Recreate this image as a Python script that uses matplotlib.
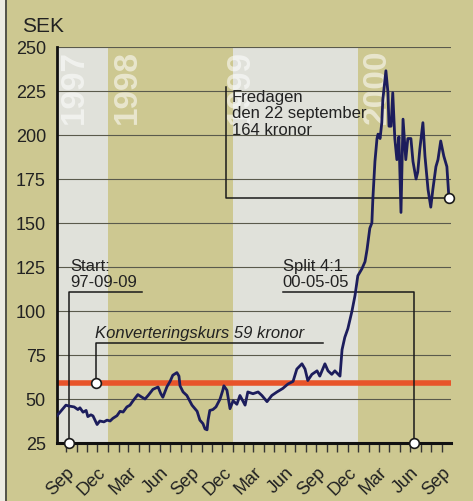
import matplotlib
matplotlib.use('Agg')
import matplotlib.pyplot as plt
from matplotlib.patches import Rectangle
from matplotlib.transforms import Bbox, TransformedBbox
import pandas as pd

plt.rcParams['font.family'] = ['Liberation Sans', 'DejaVu Sans']

# Kurs i SEK (dagar räknat från startdagen 97-09-09)
start = pd.Timestamp('1997-09-09')
days = [-35, -20, -9, 0, 15, 26, 32, 41, 50, 55, 64, 70, 82, 90, 102, 111, 120, 128,
        140, 149, 158, 169, 178, 187, 193, 201, 213, 222, 231, 245, 260, 268, 274,
        286, 295, 303, 315, 321, 324, 333, 344, 359, 374, 382, 391, 397, 403, 406,
        411, 420, 429, 441, 449, 452, 461, 470, 479, 490, 499, 514, 522, 537, 552,
        563, 578, 592, 607, 624, 639, 654, 665, 680, 689, 697, 709, 724, 732, 747,
        756, 767, 776, 791, 797, 805, 814, 826, 835, 843, 855, 864, 870, 878, 884,
        887, 893, 899, 902, 908, 913, 916, 925, 931, 934, 940, 945, 951, 957, 963,
        969, 975, 983, 989, 998, 1004, 1013, 1018, 1024, 1033, 1039, 1048, 1056,
        1062, 1071, 1077, 1085, 1094, 1103, 1109]
price = [40.5, 44, 46.5, 46, 45.5, 44, 45, 42.5, 43.5, 40, 41, 40.4, 35.5, 37.5, 37,
         38, 37.5, 39, 40.5, 43, 42.6, 45.5, 46.5, 49, 50.5, 52.5, 51, 50, 52, 55.5,
         56.8, 53, 51, 57, 60, 63.5, 65, 63, 57.5, 54, 52, 46.5, 43, 38, 36, 33, 32.5,
         38, 43.5, 44, 45.5, 50, 55, 57.5, 55, 44.5, 49, 47, 52, 46.5, 54, 53, 54, 52,
         48.5, 52, 54, 56, 58.5, 60, 67, 70, 67, 60.5, 64, 66, 63, 70, 66, 64, 66, 63,
         78, 85, 90, 100, 109, 120, 124, 128, 135, 147, 150, 164, 185, 198, 200.5, 198,
         207, 220, 236.5, 224, 205, 205, 224, 198, 186, 199, 156, 209, 186, 198, 198,
         185, 175, 179, 192, 207, 188, 169, 159, 169, 182, 186, 196.6, 188, 182, 164]

konv_kurs = 59
yticks = [25, 50, 75, 100, 125, 150, 175, 200, 225, 250]
quarter_names = {3: 'Mar', 6: 'Jun', 9: 'Sep', 12: 'Dec'}

bg = '#cdc891'
light = '#e0e1da'
ink = '#222222'

fig = plt.figure(figsize=(4.73, 5.02), dpi=100, facecolor=bg)
fig.patches.append(Rectangle((0, 0), 5 / 473, 1, transform=fig.transFigure,
                             facecolor='#ecebe2', edgecolor='none'))
fig.patches.append(Rectangle((5 / 473, 0), 1.5 / 473, 1, transform=fig.transFigure,
                             facecolor='#55554a', edgecolor='none'))

ax = fig.add_axes([57 / 473, 1 - 444 / 502, (451 - 57) / 473, (444 - 48) / 502])
ax.set_facecolor(bg)
ax.set_xlim(-35, 1115)
ax.set_ylim(25, 250)

# årsband
def d(s):
    return (pd.Timestamp(s) - start).days

ax.axvspan(-35, d('1998-01-01'), color=light, zorder=0, lw=0)
ax.axvspan(d('1999-01-01'), d('2000-01-01'), color=light, zorder=0, lw=0)
year_pos = [(-35 + 52, '1997'), (d('1998-01-01') + 55, '1998'),
            (d('1999-01-01') + 22, '1999'), (d('2000-01-01') + 55, '2000')]
for x, yr in year_pos:
    t = ax.text(x, 249, yr, rotation=90, ha='center', va='top', fontsize=24,
                fontweight='bold', color='white', alpha=0.55, zorder=1)
    if yr == '1999':
        # texten "Fredagen ..." täcker nederdelen av årtalet
        t.set_clip_box(TransformedBbox(Bbox([[x - 60, 228], [x + 60, 250]]), ax.transData))

for v in yticks[1:]:
    ax.axhline(v, color='#5a5a4c', lw=0.8, zorder=1)

# konverteringskurs
ax.axhline(konv_kurs, color='#e8542a', lw=4, zorder=2)

ax.plot(days, price, color='#1c1d5c', lw=2, zorder=4)

# annoteringar
line_kw = dict(color='#1a1a1a', lw=1.1, zorder=3)
ax.plot([0, 0, 213], [25, 110.8, 110.8], **line_kw)
ax.text(3, 112.5, 'Start:\n97-09-09', fontsize=12, color=ink, va='bottom', ha='left',
        linespacing=1.1)

ax.plot([79, 79, 741], [konv_kurs, 81.8, 81.8], **line_kw)
ax.text(76, 83.5, 'Konverteringskurs 59 kronor', fontsize=12, style='italic',
        color=ink, va='bottom', ha='left')

ax.plot([624, 1007, 1007], [110.8, 110.8, 25], **line_kw)
ax.text(624, 112.5, 'Split 4:1\n00-05-05', fontsize=12, color=ink, va='bottom',
        ha='left', linespacing=1.1)

ax.plot([458, 458, 1109], [227.3, price[-1], price[-1]], **line_kw)
ax.text(476, 226, 'Fredagen\nden 22 september\n164 kronor', fontsize=12, color=ink,
        va='top', ha='left', linespacing=1.1, zorder=3)

circ = [(0, 25), (79, konv_kurs), (1007, 25), (days[-1], price[-1])]
ax.plot([c[0] for c in circ], [c[1] for c in circ], 'o', ms=7, mfc='white',
        mec='#1a1a1a', mew=1.2, zorder=6, clip_on=False)

# axlar
for s in ['top', 'right']:
    ax.spines[s].set_visible(False)
ax.spines['left'].set_linewidth(2)
ax.spines['bottom'].set_linewidth(2.2)
ax.spines['left'].set_color('#111111')
ax.spines['bottom'].set_color('#111111')

ax.set_yticks(yticks)
ax.set_yticklabels([str(v) for v in yticks], fontsize=13, color=ink)
ax.tick_params(axis='y', length=0, pad=8)

months = pd.date_range('1997-09-01', '2000-09-01', freq='MS')
ax.set_xticks([(m - start).days for m in months])
ax.set_xticklabels([quarter_names.get(m.month, '') for m in months], rotation=45,
                   ha='right', va='top', rotation_mode='anchor', fontsize=13, color=ink)
ax.tick_params(axis='x', length=6.5, width=1, color='#333333', pad=8)

fig.text(22 / 473, 1 - 32 / 502, 'SEK', fontsize=15, color=ink, ha='left', va='baseline')

fig.savefig('out.png', dpi=100, facecolor=bg)
